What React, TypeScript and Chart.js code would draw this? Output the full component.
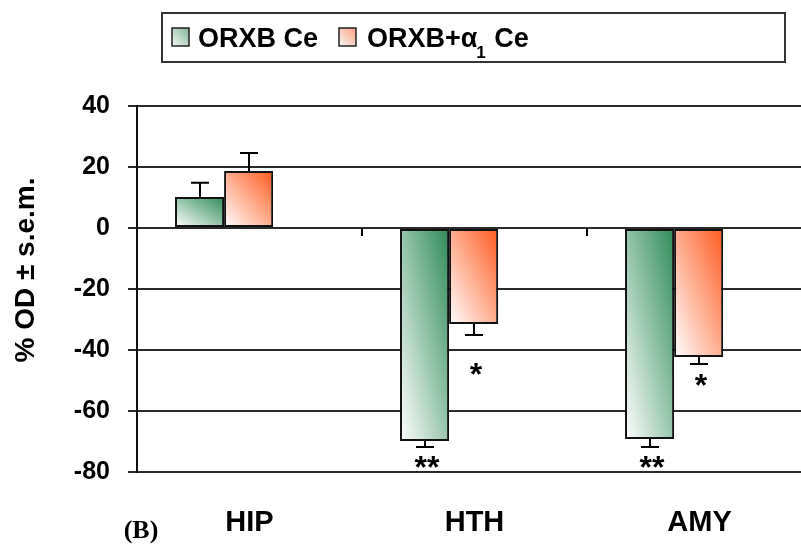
import React, { useEffect, useRef } from 'react';
import { Chart, registerables } from 'chart.js';

Chart.register(...registerables);

// ---- data ----
const CATEGORIES = ['HIP', 'HTH', 'AMY'];
const SERIES_NAMES = ['ORXB Ce', 'ORXB+α'];
const ORXB_CE = [10.2, -69.8, -69.2];
const ORXB_A1_CE = [18.7, -31.5, -42.3];
const ORXB_CE_SEM = [4.6, 2.0, 2.6];
const ORXB_A1_CE_SEM = [5.9, 3.6, 2.3];
const ORXB_CE_SIG = ['', '**', '**'];
const ORXB_A1_CE_SIG = ['', '*', '*'];
const ORXB_CE_SIG_AT = [0, -76, -76];
const ORXB_A1_CE_SIG_AT = [0, -45.6, -49.2];
const Y_MIN = -80;
const Y_MAX = 40;
const Y_STEP = 20;
const Y_TITLE = '% OD ± s.e.m.';
const PANEL = '(B)';

// ---- style ----
const GREEN = '#2e8b57';
const RED = '#ff5a1e';
const FONT = '"Liberation Sans", Arial, sans-serif';
const BAR_SHIFT = -0.113;

const diagGradient = (ctx: CanvasRenderingContext2D, L: number, T: number, R: number, B: number, color: string, startColor = '#ffffff') => {
  const W = Math.max(R - L, 1);
  const H = Math.max(B - T, 1);
  const k = (2 * W * H) / (W * W + H * H);
  const g = ctx.createLinearGradient(L, B, L + H * k, B - W * k);
  g.addColorStop(0, startColor);
  g.addColorStop(1, color);
  return g;
};

const decorPlugin = {
  id: 'decor',
  beforeDatasetsDraw(chart: any) {
    const ctx = chart.ctx;
    const colors = [GREEN, RED];
    chart.data.datasets.forEach((_: any, di: number) => {
      const meta = chart.getDatasetMeta(di);
      meta.data.forEach((el: any) => {
        const { x, y, base, width } = el.getProps(['x', 'y', 'base', 'width'], true);
        const L = x - width / 2;
        const R = x + width / 2;
        const T = Math.min(y, base);
        const B = Math.max(y, base);
        el.options = { ...el.options, backgroundColor: diagGradient(ctx, L, T, R, B, colors[di]) };
      });
    });
  },
  afterDatasetsDraw(chart: any) {
    const ctx = chart.ctx;
    const yS = chart.scales.y;
    const xS = chart.scales.x;
    const vals = [ORXB_CE, ORXB_A1_CE];
    const sems = [ORXB_CE_SEM, ORXB_A1_CE_SEM];
    const sigs = [ORXB_CE_SIG, ORXB_A1_CE_SIG];
    const sigAt = [ORXB_CE_SIG_AT, ORXB_A1_CE_SIG_AT];
    ctx.save();
    ctx.strokeStyle = '#000';
    ctx.lineWidth = 2;
    // small category separators on the zero line
    const y0 = yS.getPixelForValue(0);
    for (let i = 0; i < CATEGORIES.length - 1; i++) {
      const xb = Math.round(xS.getPixelForValue(i + 0.5));
      ctx.beginPath();
      ctx.moveTo(xb, y0);
      ctx.lineTo(xb, y0 + 8);
      ctx.stroke();
    }
    vals.forEach((series, di) => {
      const meta = chart.getDatasetMeta(di);
      meta.data.forEach((el: any, i: number) => {
        const v = series[i];
        const sign = v >= 0 ? 1 : -1;
        const yBar = yS.getPixelForValue(v);
        const yEnd = yS.getPixelForValue(v + sign * sems[di][i]);
        const xc = Math.round(el.x);
        ctx.beginPath();
        ctx.moveTo(xc, yBar);
        ctx.lineTo(xc, yEnd);
        ctx.moveTo(xc - 9, yEnd);
        ctx.lineTo(xc + 9, yEnd);
        ctx.stroke();
        if (sigs[di][i]) {
          ctx.fillStyle = '#000';
          ctx.font = `bold 32px ${FONT}`;
          ctx.textAlign = 'center';
          ctx.textBaseline = 'alphabetic';
          ctx.fillText(sigs[di][i], xc + 2, yS.getPixelForValue(sigAt[di][i]) + 18);
        }
      });
    });
    ctx.restore();
  },
  afterDraw(chart: any) {
    const ctx = chart.ctx;
    ctx.save();
    // y title
    ctx.fillStyle = '#000';
    ctx.translate(26, 270);
    ctx.rotate(-Math.PI / 2);
    ctx.font = `bold 28px ${FONT}`;
    ctx.textAlign = 'center';
    ctx.textBaseline = 'middle';
    ctx.fillText(Y_TITLE, 0, 0);
    ctx.restore();

    ctx.save();
    ctx.fillStyle = '#000';
    ctx.font = `bold 26px "Liberation Serif", "Times New Roman", serif`;
    ctx.textAlign = 'center';
    ctx.textBaseline = 'middle';
    ctx.fillText(PANEL, 141, 531);
    ctx.restore();

    // legend
    ctx.save();
    ctx.strokeStyle = '#333';
    ctx.lineWidth = 2;
    ctx.strokeRect(162, 13, 623, 49);
    const swatch = (x: number, color: string) => {
      ctx.fillStyle = diagGradient(ctx, x, 28, x + 17, 46, color, '#f4f8f5');
      ctx.fillRect(x, 28, 17, 18);
      ctx.strokeStyle = '#222';
      ctx.lineWidth = 1.5;
      ctx.strokeRect(x, 28, 17, 18);
    };
    swatch(172, '#7fb596');
    swatch(339, '#ff9f80');
    ctx.fillStyle = '#000';
    ctx.font = `bold 27px ${FONT}`;
    ctx.textAlign = 'left';
    ctx.textBaseline = 'alphabetic';
    ctx.fillText(SERIES_NAMES[0], 198, 47);
    ctx.fillText(SERIES_NAMES[1], 367, 47);
    const w = ctx.measureText(SERIES_NAMES[1]).width;
    ctx.font = `bold 17px ${FONT}`;
    ctx.fillText('1', 367 + w - 1, 58);
    const w1 = ctx.measureText('1').width;
    ctx.font = `bold 27px ${FONT}`;
    ctx.fillText(' Ce', 367 + w + w1, 47);
    ctx.restore();
  },
};

export default function App() {
  const ref = useRef<HTMLCanvasElement>(null);
  useEffect(() => {
    if (!ref.current) return;
    const toPoints = (arr: number[]) => arr.map((v, i) => ({ x: i + BAR_SHIFT, y: v }));
    const chart = new Chart(ref.current, {
      type: 'bar',
      data: {
        datasets: [
          { label: 'ORXB Ce', data: toPoints(ORXB_CE), backgroundColor: GREEN, borderColor: '#111', borderWidth: 2, borderSkipped: false },
          { label: 'ORXB+α1 Ce', data: toPoints(ORXB_A1_CE), backgroundColor: RED, borderColor: '#111', borderWidth: 2, borderSkipped: false },
        ] as any,
      },
      options: {
        responsive: false,
        animation: false,
        devicePixelRatio: 1,
        layout: { padding: { top: 106, left: 0, right: 0, bottom: 0 } },
        datasets: { bar: { categoryPercentage: 0.436, barPercentage: 1 } } as any,
        plugins: { legend: { display: false }, tooltip: { enabled: false } },
        scales: {
          x: {
            type: 'linear',
            offset: false,
            min: -0.5,
            max: 2.451,
            afterBuildTicks: (s: any) => { s.ticks = CATEGORIES.map((_, i) => ({ value: i })); },
            afterFit: (s: any) => { s.height = 78; },
            grid: { display: false, drawTicks: false, offset: false },
            border: { display: false },
            ticks: {
              padding: 34,
              color: '#000',
              font: { family: FONT, size: 29, weight: 'bold' },
              callback: (v: any) => CATEGORIES[Math.round(v)] ?? '',
              autoSkip: false,
              maxRotation: 0,
            },
          } as any,
          y: {
            min: Y_MIN,
            max: Y_MAX,
            afterFit: (s: any) => { s.width = 137; },
            grid: { color: '#2a2a2a', lineWidth: 2, drawTicks: true, tickLength: 9 },
            border: { display: true, color: '#111', width: 2 },
            ticks: {
              stepSize: Y_STEP,
              padding: 18,
              color: '#000',
              font: { family: FONT, size: 25, weight: 'bold' },
            },
          } as any,
        },
      },
      plugins: [decorPlugin],
    });
    return () => chart.destroy();
  }, []);
  return (
    <div style={{ position: 'absolute', left: 0, top: 0, width: 801, height: 550, background: '#fff' }}>
      <canvas ref={ref} width={801} height={550} />
    </div>
  );
}
